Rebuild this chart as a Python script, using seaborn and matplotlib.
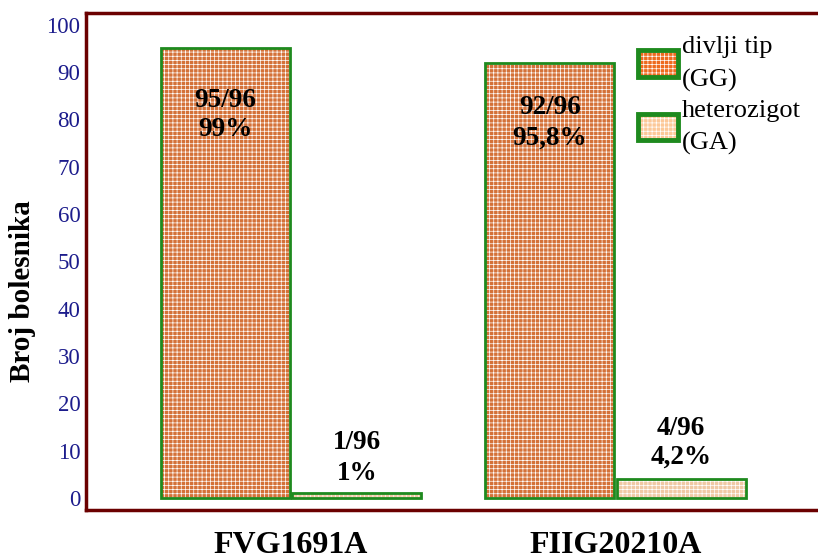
import matplotlib
matplotlib.use('Agg')
import matplotlib.pyplot as plt
import seaborn as sns
import pandas as pd
from matplotlib.patches import Patch, Rectangle
from matplotlib.legend_handler import HandlerTuple
from matplotlib.ticker import MultipleLocator

# podaci
geni = ["FVG1691A", "FIIG20210A"]
genotipovi = ["divlji tip\n(GG)", "heterozigot\n(GA)"]
gg_vals = [95, 92]
ga_vals = [1, 4]
gg_labels = [("95/96", "99%"), ("92/96", "95,8%")]
ga_labels = [("1/96", "1%"), ("4/96", "4,2%")]
# pomak natpisa od vrha stupca (gornji red, donji red)
gg_pomak = [(-11.1, -17.2), (-9.4, -15.9)]
ga_pomak = [(10.8, 4.3), (10.8, 4.7)]

df = pd.DataFrame({
    "gen": geni * 2,
    "genotip": [genotipovi[0]] * 2 + [genotipovi[1]] * 2,
    "broj": gg_vals + ga_vals,
})

sns.set_style("white")
plt.rcParams['font.family'] = ['Liberation Serif', 'DejaVu Serif']
plt.rcParams['text.color'] = 'black'
plt.rcParams['axes.labelcolor'] = 'black'
plt.rcParams['hatch.linewidth'] = 0.5

face = ["#ee6a1e", "#fcc898"]
tamno_crvena = "#6b0000"
zelena = "#1e8a1e"
uzorak = "++++"

fig = plt.figure(figsize=(8.18, 5.58), dpi=100)
ax = fig.add_axes([0.105, 0.086, 0.895, 0.891])

sns.barplot(data=df, x="gen", y="broj", hue="genotip", hue_order=genotipovi,
            order=geni, palette=face, width=0.81, gap=0.02, ax=ax, legend=False)

# checker uzorak (bijeli hatch) + zeleni okvir preko
for cont in ax.containers:
    for p in cont.patches:
        p.set_hatch(uzorak)
        p.set_edgecolor("white")
        p.set_linewidth(0)
        ax.add_patch(Rectangle(p.get_xy(), p.get_width(), p.get_height(),
                               fill=False, edgecolor=zelena, linewidth=2, zorder=3))

# natpisi na stupcima (dva reda)
def natpis(bar, vrh, pomak, tekst):
    cx = bar.get_x() + bar.get_width() / 2
    for dy, t in zip(pomak, tekst):
        ax.text(cx, vrh + dy, t, ha="center", va="center", fontsize=19.5,
                fontweight="bold", color="black", zorder=4)

for i in range(len(geni)):
    natpis(ax.containers[0].patches[i], gg_vals[i], gg_pomak[i], gg_labels[i])
    natpis(ax.containers[1].patches[i], ga_vals[i], ga_pomak[i], ga_labels[i])

ax.set_xlim(-0.632, 1.624)
ax.set_ylim(-2.5, 102.5)
ax.yaxis.set_major_locator(MultipleLocator(10))
ax.yaxis.set_minor_locator(MultipleLocator(5))
ax.tick_params(axis="y", which="major", direction="in", length=12, width=2,
               color=tamno_crvena, labelcolor="#1c1c8c", labelsize=16.5, pad=4)
ax.tick_params(axis="y", which="minor", direction="in", length=6, width=2,
               color=tamno_crvena)
ax.tick_params(axis="x", length=0, labelsize=23, pad=15, labelcolor="black")
for lab in ax.get_xticklabels():
    lab.set_fontweight("bold")

for s in ["left", "bottom", "top"]:
    ax.spines[s].set_color(tamno_crvena)
    ax.spines[s].set_linewidth(2.5)
ax.spines["right"].set_visible(False)

ax.set_xlabel("")
ax.set_ylabel("Broj bolesnika", fontsize=21, fontweight="bold")
ax.yaxis.set_label_coords(-0.068, 0.44)

handles = []
for c in face:
    handles.append((Patch(facecolor=c, hatch=uzorak, edgecolor="white", linewidth=0),
                    Patch(fill=False, edgecolor=zelena, linewidth=3.5)))
leg = ax.legend(handles, genotipovi, handler_map={tuple: HandlerTuple(ndivide=1, pad=0)},
                loc="upper left", bbox_to_anchor=(638 / 818, 1 - 36 / 558),
                bbox_transform=fig.transFigure, frameon=False, fontsize=19,
                handlelength=1.5, handleheight=1.15, handletextpad=0.15,
                labelspacing=0.3, borderaxespad=0, borderpad=0)
for t in leg.get_texts():
    t.set_linespacing(1.6)

fig.savefig("out.png", dpi=100)
plt.close()
